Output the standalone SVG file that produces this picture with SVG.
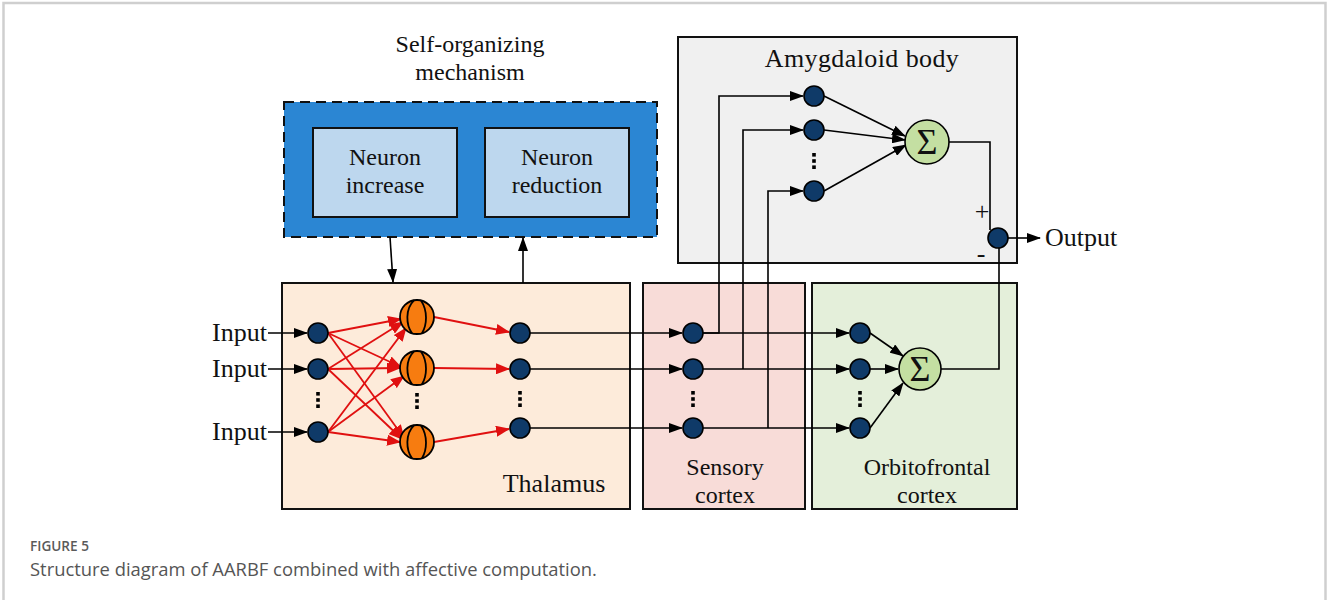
<svg xmlns="http://www.w3.org/2000/svg" width="1327" height="601" viewBox="0 0 1327 601">
<style>
.box{stroke:#111;stroke-width:2}
.lbl{font-family:"Liberation Serif",serif;font-size:26px;fill:#111}
.l2{font-family:"Liberation Serif",serif;font-size:24px;fill:#111}
.sg{font-family:"Liberation Serif",serif;font-size:36px;fill:#111}
.n{fill:#0f3a68;stroke:#000;stroke-width:1.6}
.sig{fill:#c4dfa2;stroke:#000;stroke-width:1.6}
.o{fill:#f77c10;stroke:#000;stroke-width:1.8}
.ol{fill:none;stroke:#000;stroke-width:1.8}
.k{fill:none;stroke:#000;stroke-width:1.6}
.r{fill:none;stroke:#e01010;stroke-width:1.8}
</style>
<defs>
<marker id="ak" markerUnits="userSpaceOnUse" markerWidth="15" markerHeight="10" refX="13" refY="5" orient="auto"><path d="M0,0 L14,5 L0,10 Z" fill="#000"/></marker>
<marker id="ar" markerUnits="userSpaceOnUse" markerWidth="15" markerHeight="11" refX="13" refY="5.5" orient="auto"><path d="M0,0 L14,5.5 L0,11 Z" fill="#e01010"/></marker>
<g id="dots"><rect x="-1.8" y="-8" width="3.6" height="3.6"/><rect x="-1.8" y="-1.8" width="3.6" height="3.6"/><rect x="-1.8" y="4.4" width="3.6" height="3.6"/></g>
<g id="orb"><circle r="17" class="o"/><path class="ol" d="M-3,-16.7 C-12,-8 -11,8 -5,16.2 M4,-16.5 C11,-6 10,8 5,16.2"/></g>
</defs>
<path d="M3.5,600 V3 H1325.5 V600" fill="none" stroke="#cfcfcf" stroke-width="2.5"/>

<g id="thalamus"><rect class="box" x="282" y="283" width="348" height="226" fill="#fdebda"/><text class="lbl" x="554" y="492" text-anchor="middle">Thalamus</text></g>
<g id="sensory"><rect class="box" x="643" y="283" width="162" height="226" fill="#f8dcd8"/><text class="l2" x="725" y="475" text-anchor="middle">Sensory</text><text class="l2" x="725" y="503" text-anchor="middle">cortex</text></g>
<g id="orbitofrontal"><rect class="box" x="812" y="283" width="205" height="226" fill="#e4efda"/><text class="l2" x="927" y="475" text-anchor="middle">Orbitofrontal</text><text class="l2" x="927" y="503" text-anchor="middle">cortex</text></g>
<g id="amygdala"><rect class="box" x="678" y="37" width="339" height="226" fill="#f0f0f0"/><text class="lbl" x="862" y="67" text-anchor="middle" letter-spacing="0.4">Amygdaloid body</text></g>
<g id="selforg"><text class="l2" x="470" y="52" text-anchor="middle">Self-organizing</text><text class="l2" x="470" y="80" text-anchor="middle">mechanism</text><rect x="284" y="102" width="373" height="135" fill="#2b86d3" stroke="#111" stroke-width="2" stroke-dasharray="10,6"/></g>
<g id="increase"><rect class="box" x="313" y="128" width="144" height="89" fill="#bdd7ee"/><text class="l2" x="385" y="165" text-anchor="middle">Neuron</text><text class="l2" x="385" y="193" text-anchor="middle">increase</text></g>
<g id="reduction"><rect class="box" x="485" y="128" width="144" height="89" fill="#bdd7ee"/><text class="l2" x="557" y="165" text-anchor="middle">Neuron</text><text class="l2" x="557" y="193" text-anchor="middle">reduction</text></g>

<g id="connectors">
<line class="k" x1="390" y1="237" x2="393" y2="282" marker-end="url(#ak)"/>
<line class="k" x1="523" y1="283" x2="523" y2="238" marker-end="url(#ak)"/>
<line class="k" x1="268" y1="333" x2="307" y2="333" marker-end="url(#ak)"/>
<line class="k" x1="268" y1="369" x2="307" y2="369" marker-end="url(#ak)"/>
<line class="k" x1="268" y1="432" x2="307" y2="432" marker-end="url(#ak)"/>
<g class="r">
<line x1="328" y1="333" x2="401" y2="319" marker-end="url(#ar)"/>
<line x1="328" y1="333" x2="401" y2="367" marker-end="url(#ar)"/>
<line x1="328" y1="333" x2="404" y2="438" marker-end="url(#ar)"/>
<line x1="328" y1="369" x2="403" y2="322" marker-end="url(#ar)"/>
<line x1="328" y1="369" x2="400" y2="368" marker-end="url(#ar)"/>
<line x1="328" y1="369" x2="402" y2="439" marker-end="url(#ar)"/>
<line x1="328" y1="432" x2="406" y2="328" marker-end="url(#ar)"/>
<line x1="328" y1="432" x2="404" y2="376" marker-end="url(#ar)"/>
<line x1="328" y1="432" x2="400" y2="442" marker-end="url(#ar)"/>
<line x1="434" y1="317" x2="509" y2="332" marker-end="url(#ar)"/>
<line x1="434" y1="368" x2="509" y2="369" marker-end="url(#ar)"/>
<line x1="434" y1="442" x2="509" y2="429" marker-end="url(#ar)"/>
</g>
<line class="k" x1="530" y1="333" x2="682" y2="333" marker-end="url(#ak)"/>
<line class="k" x1="530" y1="369" x2="682" y2="369" marker-end="url(#ak)"/>
<line class="k" x1="530" y1="428" x2="682" y2="428" marker-end="url(#ak)"/>
<line class="k" x1="703" y1="333" x2="849" y2="333" marker-end="url(#ak)"/>
<line class="k" x1="703" y1="369" x2="849" y2="369" marker-end="url(#ak)"/>
<line class="k" x1="703" y1="428" x2="849" y2="428" marker-end="url(#ak)"/>
<polyline class="k" points="703,333 719,333 719,96 803,96" marker-end="url(#ak)"/>
<polyline class="k" points="743,369 743,130 803,130" marker-end="url(#ak)"/>
<polyline class="k" points="768,428 768,191 803,191" marker-end="url(#ak)"/>
<line class="k" x1="824" y1="96" x2="905" y2="136" marker-end="url(#ak)"/>
<line class="k" x1="824" y1="130" x2="905" y2="140" marker-end="url(#ak)"/>
<line class="k" x1="824" y1="191" x2="906" y2="145" marker-end="url(#ak)"/>
<line class="k" x1="870" y1="333" x2="903" y2="356" marker-end="url(#ak)"/>
<line class="k" x1="870" y1="369" x2="898" y2="369" marker-end="url(#ak)"/>
<line class="k" x1="870" y1="428" x2="903" y2="383" marker-end="url(#ak)"/>
<polyline class="k" points="949,142 990,142 990,230"/>
<polyline class="k" points="941,369 999,369 999,248"/>
<line class="k" x1="1008" y1="238" x2="1040" y2="238" marker-end="url(#ak)"/>
</g>

<g id="input-nodes"><circle class="n" cx="318" cy="333" r="10"/><circle class="n" cx="318" cy="369" r="10"/><circle class="n" cx="318" cy="432" r="10"/><use href="#dots" x="318" y="400"/>
<text class="lbl" x="267" y="341" text-anchor="end">Input</text><text class="lbl" x="267" y="377" text-anchor="end">Input</text><text class="lbl" x="267" y="440" text-anchor="end">Input</text></g>
<g id="hidden-nodes"><use href="#orb" x="417" y="317"/><use href="#orb" x="417" y="368"/><use href="#orb" x="417" y="442"/><use href="#dots" x="417" y="401"/></g>
<g id="thalamus-out"><circle class="n" cx="520" cy="333" r="10"/><circle class="n" cx="520" cy="369" r="10"/><circle class="n" cx="520" cy="428" r="10"/><use href="#dots" x="520" y="399"/></g>
<g id="sensory-nodes"><circle class="n" cx="693" cy="333" r="10"/><circle class="n" cx="693" cy="369" r="10"/><circle class="n" cx="693" cy="428" r="10"/><use href="#dots" x="693" y="399"/></g>
<g id="ofc-nodes"><circle class="n" cx="860" cy="333" r="10"/><circle class="n" cx="860" cy="369" r="10"/><circle class="n" cx="860" cy="428" r="10"/><use href="#dots" x="860" y="399"/></g>
<g id="ofc-sum"><circle class="sig" cx="920" cy="369" r="21"/><text class="sg" x="920" y="381" text-anchor="middle">Σ</text></g>
<g id="amy-nodes"><circle class="n" cx="814" cy="96" r="10"/><circle class="n" cx="814" cy="130" r="10"/><circle class="n" cx="814" cy="191" r="10"/><use href="#dots" x="814" y="161"/></g>
<g id="amy-sum"><circle class="sig" cx="927" cy="142" r="22"/><text class="sg" x="927" y="154" text-anchor="middle">Σ</text></g>
<g id="output-node"><circle class="n" cx="998" cy="238" r="10"/><text class="lbl" x="982" y="220" text-anchor="middle">+</text><text class="lbl" x="981" y="262" text-anchor="middle">-</text><text class="lbl" x="1045" y="246">Output</text></g>

<g id="caption"><text x="30" y="551" font-family="Open Sans,sans-serif" font-size="13.6" font-weight="600" fill="#5a5a5a">FIGURE 5</text><text x="30" y="576" font-family="Open Sans,sans-serif" font-size="18.4" fill="#555">Structure diagram of AARBF combined with affective computation.</text></g>
</svg>
